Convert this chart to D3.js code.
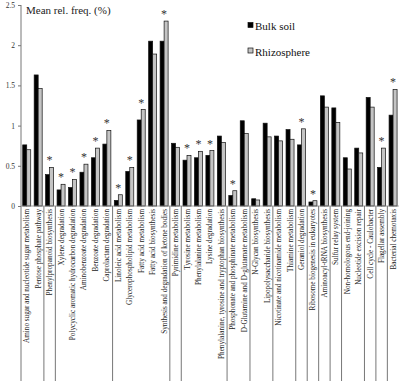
<!DOCTYPE html>
<html>
<head>
<meta charset="utf-8">
<script src="https://cdn.jsdelivr.net/npm/d3@7"></script>
<style>
  body { margin: 0; background: #fff; }
</style>
</head>
<body>
<div id="chart"></div>
<script>
const categories = [
  "Amino sugar and nucleotide sugar metabolism",
  "Pentose phosphate pathway",
  "Phenylpropanoid biosynthesis",
  "Xylene degradation",
  "Polycyclic aromatic hydrocarbon degradation",
  "Aminobenzoate degradation",
  "Benzoate degradation",
  "Caprolactam degradation",
  "Linoleic acid metabolism",
  "Glycerophospholipid metabolism",
  "Fatty acid metabolism",
  "Fatty acid biosynthesis",
  "Synthesis and degradation of ketone bodies",
  "Pyrimidine metabolism",
  "Tyrosine metabolism",
  "Phenylalanine metabolism",
  "Lysine degradation",
  "Phenylalanine, tyrosine and tryptophan biosynthesis",
  "Phosphonate and phosphinate metabolism",
  "D-Glutamine and D-glutamate metabolism",
  "N-Glycan biosynthesis",
  "Lipopolysaccharide biosynthesis",
  "Nicotinate and nicotinamide metabolism",
  "Thiamine metabolism",
  "Geraniol degradation",
  "Ribosome biogenesis in eukaryotes",
  "Aminoacyl-tRNA biosynthesis",
  "Sulfur relay system",
  "Non-homologous end-joining",
  "Nucleotide excision repair",
  "Cell cycle - Caulobacter",
  "Flagellar assembly",
  "Bacterial chemotaxis"
];

// group id of each category (separator lines drawn between groups)
const groups = [1, 1, 2, 3, 3, 3, 3, 3, 4, 4, 4, 4, 4, 5, 6, 6, 6, 6, 7, 7,
  8, 8, 9, 9, 10, 11, 12, 13, 14, 14, 15, 16, 17];

const bulkSoil = [0.76, 1.63, 0.39, 0.20, 0.23, 0.42, 0.60, 0.77, 0.07, 0.43,
  1.07, 2.05, 2.05, 0.78, 0.57, 0.60, 0.63, 0.87, 0.13, 1.06,
  0.09, 1.03, 0.87, 0.95, 0.76, 0.05, 1.37, 1.22, 0.60, 0.72,
  1.35, 0.48, 1.13];

const rhizosphere = [0.70, 1.46, 0.48, 0.27, 0.33, 0.52, 0.72, 0.94, 0.14, 0.48,
  1.20, 1.89, 2.30, 0.73, 0.63, 0.68, 0.69, 0.79, 0.19, 0.90,
  0.075, 0.86, 0.81, 0.83, 0.96, 0.066, 1.23, 1.04, 0.46, 0.66,
  1.23, 0.72, 1.45];

// 1 = significant difference (asterisk)
const significant = [0, 0, 1, 1, 1, 1, 1, 1, 1, 1,
  1, 0, 1, 0, 1, 1, 1, 0, 1, 0,
  0, 0, 0, 0, 1, 1, 0, 0, 0, 0,
  0, 1, 1];

const seriesNames = ["Bulk soil", "Rhizosphere"];
const yTicks = [0, 0.5, 1, 1.5, 2, 2.5];

const W = 400, H = 383;
const m = { left: 21, right: 398.8, top: 5, base: 206, bottom: 381 };
const serif = "'Liberation Serif', 'Times New Roman', serif";

const data = categories.map((c, i) => ({
  cat: c, group: groups[i], sig: significant[i],
  values: [bulkSoil[i], rhizosphere[i]]
}));

const svg = d3.select("#chart")
  .append("svg")
    .attr("width", W)
    .attr("height", H)
    .attr("font-family", serif);

const x = d3.scaleBand()
  .domain(categories)
  .range([m.left, m.right]);

const xs = d3.scaleBand()
  .domain(seriesNames)
  .range([0, x.bandwidth()])
  .paddingOuter(0.43);

const y = d3.scaleLinear()
  .domain([0, 2.5])
  .range([m.base, m.top]);

const fills = ["#000", "#c4c4c4"];

// bars
const cat = svg.selectAll("g.cat")
  .data(data)
  .enter()
  .append("g")
    .attr("class", "cat")
    .attr("transform", d => `translate(${x(d.cat)},0)`);

cat.selectAll("rect")
  .data(d => d.values.map((v, k) => ({ s: seriesNames[k], v, k })))
  .enter()
  .append("rect")
    .attr("x", d => xs(d.s))
    .attr("y", d => y(d.v))
    .attr("width", xs.bandwidth())
    .attr("height", d => m.base - y(d.v))
    .attr("fill", d => fills[d.k])
    .attr("stroke", "#111")
    .attr("stroke-width", 0.7);

// asterisks
cat.filter(d => d.sig)
  .append("text")
    .attr("x", x.bandwidth() / 2)
    .attr("y", d => y(d3.max(d.values)) - 3)
    .attr("text-anchor", "middle")
    .attr("font-size", "12px")
    .attr("fill", "#333")
    .text("*");

// y axis
svg.append("g")
  .attr("transform", `translate(${m.left},0)`)
  .call(d3.axisLeft(y).tickValues(yTicks).tickSize(3).tickSizeOuter(0)
    .tickFormat(d3.format("~g")))
  .call(g => g.select(".domain").remove())
  .call(g => g.selectAll("line").attr("stroke", "#777"))
  .call(g => g.selectAll("text")
    .attr("font-family", serif)
    .attr("font-size", "7.5px")
    .attr("fill", "#333")
    .attr("x", -6));

svg.append("line")
  .attr("x1", m.left).attr("x2", m.left)
  .attr("y1", m.top).attr("y2", m.bottom)
  .attr("stroke", "#777");

// x axis baseline
svg.append("line")
  .attr("x1", m.left).attr("x2", m.right)
  .attr("y1", m.base).attr("y2", m.base)
  .attr("stroke", "#888")
  .attr("stroke-width", 0.8);

// group separators
data.forEach((d, i) => {
  if (i < data.length - 1 && d.group !== data[i + 1].group) {
    const sx = x(d.cat) + x.bandwidth();
    svg.append("line")
      .attr("x1", sx).attr("x2", sx)
      .attr("y1", m.base).attr("y2", m.bottom)
      .attr("stroke", "#777");
  }
});

// category labels
svg.append("g")
  .selectAll("text")
  .data(categories)
  .enter()
  .append("text")
    .attr("transform", d => `translate(${x(d) + x.bandwidth() / 2},209) rotate(-90)`)
    .attr("dy", "0.35em")
    .attr("text-anchor", "end")
    .attr("font-size", "7.2px")
    .attr("fill", "#222")
    .text(d => d);

// y title
svg.append("text")
  .attr("x", 26)
  .attr("y", 14)
  .attr("font-size", "11px")
  .attr("fill", "#222")
  .text("Mean rel. freq. (%)");

// legend
const legend = svg.append("g")
  .selectAll("g")
  .data(seriesNames)
  .enter()
  .append("g")
    .attr("transform", (d, i) => `translate(248,${22.5 + i * 25.5})`);

legend.append("rect")
  .attr("width", 5)
  .attr("height", 5)
  .attr("fill", (d, i) => fills[i])
  .attr("stroke", "#111")
  .attr("stroke-width", 0.7);

legend.append("text")
  .attr("x", 7)
  .attr("y", 7.5)
  .attr("font-size", "11px")
  .attr("fill", "#111")
  .text(d => d);
</script>
</body>
</html>
